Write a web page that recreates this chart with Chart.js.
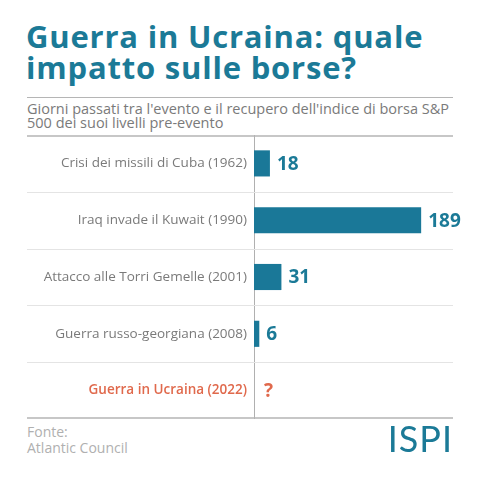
<!DOCTYPE html>
<html>
<head>
<meta charset="utf-8">
<script src="https://cdn.jsdelivr.net/npm/chart.js"></script>
<style>
  html, body { margin: 0; padding: 0; background: #fff; }
  body { width: 480px; height: 480px; position: relative; overflow: hidden; font-family: "Open Sans", Lato, sans-serif; }
  #title { position: absolute; left: 26px; top: 21px; font-size: 31px; line-height: 31px; letter-spacing: 0.8px; font-weight: 700; color: #1b7a97; white-space: nowrap; }
  #rule1 { position: absolute; left: 27px; top: 97px; width: 426px; height: 0; border-top: 1.5px solid #b5b5b5; }
  #subtitle { position: absolute; left: 27px; top: 102px; font-size: 14.5px; line-height: 14px; color: #7a7a7a; white-space: nowrap; }
  #wrap { position: absolute; left: 0; top: 135px; width: 480px; height: 284px; }
  #source { position: absolute; left: 27px; top: 424px; font-size: 14px; line-height: 16px; color: #b0b0b0; font-weight: 400; }
  #logo { position: absolute; right: 27px; top: 418px; font-family: Lato, sans-serif; font-size: 36px; line-height: 40px; font-weight: 400; color: #1b7a97; letter-spacing: 1px; }
</style>
</head>
<body>
<div id="title">Guerra in Ucraina: quale<br>impatto sulle borse?</div>
<div id="rule1"></div>
<div id="subtitle">Giorni passati tra l'evento e il recupero dell'indice di borsa S&amp;P<br>500 dei suoi livelli pre-evento</div>
<div id="wrap"><canvas id="grafico"></canvas></div>
<div id="source">Fonte:<br>Atlantic Council</div>
<div id="logo">ISPI</div>
<script>
const eventi = [
    "Crisi dei missili di Cuba (1962)",
    "Iraq invade il Kuwait (1990)",
    "Attacco alle Torri Gemelle (2001)",
    "Guerra russo-georgiana (2008)",
    "Guerra in Ucraina (2022)"
];
const giorni = [18, 189, 31, 6, null];
const etichette = ["18", "189", "31", "6", "?"];

const blu = "#1b7a97";
const arancio = "#e0694c";

// separatori orizzontali tra le righe, da margine a margine
const separatori = {
    id: "separatori",
    beforeDatasetsDraw(chart) {
        const { ctx, chartArea, scales: { y } } = chart;
        const n = eventi.length;
        ctx.save();
        for (let i = 0; i <= n; i++) {
            let py;
            if (i === 0) py = chartArea.top;
            else if (i === n) py = chartArea.bottom;
            else py = (y.getPixelForValue(i - 1) + y.getPixelForValue(i)) / 2;
            const bordo = i === 0 || i === n;
            ctx.strokeStyle = bordo ? "#b5b5b5" : "#e4e4e4";
            ctx.lineWidth = bordo ? 1.5 : 1;
            const yy = bordo ? (i === 0 ? py + 1 : py - 1) : Math.round(py) + 0.5;
            ctx.beginPath();
            ctx.moveTo(27, yy);
            ctx.lineTo(453, yy);
            ctx.stroke();
        }
        ctx.restore();
    }
};

const valori = {
    id: "valori",
    afterDatasetsDraw(chart) {
        const { ctx } = chart;
        const meta = chart.getDatasetMeta(0);
        ctx.save();
        ctx.font = "bold 19px 'Open Sans', sans-serif";
        ctx.textBaseline = "middle";
        meta.data.forEach((bar, i) => {
            const nullo = giorni[i] === null;
            const x = nullo ? chart.chartArea.left + 10 : bar.x + 7;
            const yy = chart.scales.y.getPixelForValue(i);
            ctx.fillStyle = nullo ? arancio : blu;
            ctx.fillText(etichette[i], x, yy + 1);
        });
        ctx.restore();
    }
};

new Chart(document.getElementById("grafico"), {
    type: "bar",
    data: {
        labels: eventi,
        datasets: [{
            data: giorni,
            backgroundColor: "#1a7898",
            barPercentage: 0.46,
            categoryPercentage: 1
        }]
    },
    options: {
        indexAxis: "y",
        responsive: true,
        maintainAspectRatio: false,
        animation: false,
        layout: { padding: { left: 0, right: 27, top: 0, bottom: 0 } },
        plugins: {
            legend: { display: false },
            tooltip: { enabled: false }
        },
        scales: {
            x: {
                display: false,
                min: 0,
                max: 225
            },
            y: {
                afterFit(scale) {
                    scale.width = 254;
                    scale.paddingTop = 0;
                    scale.paddingBottom = 0;
                },
                grid: { display: false, drawTicks: false },
                border: { display: true, color: "#b0b0b0", width: 1 },
                ticks: {
                    padding: 7,
                    color: ctx => ctx.index === eventi.length - 1 ? arancio : "#7a7a7a",
                    font: ctx => ctx.index === eventi.length - 1
                        ? { family: "'Open Sans', sans-serif", size: 13.5, weight: "600" }
                        : { family: "'Open Sans', sans-serif", size: 13.5 }
                }
            }
        }
    },
    plugins: [separatori, valori]
});
</script>
</body>
</html>
